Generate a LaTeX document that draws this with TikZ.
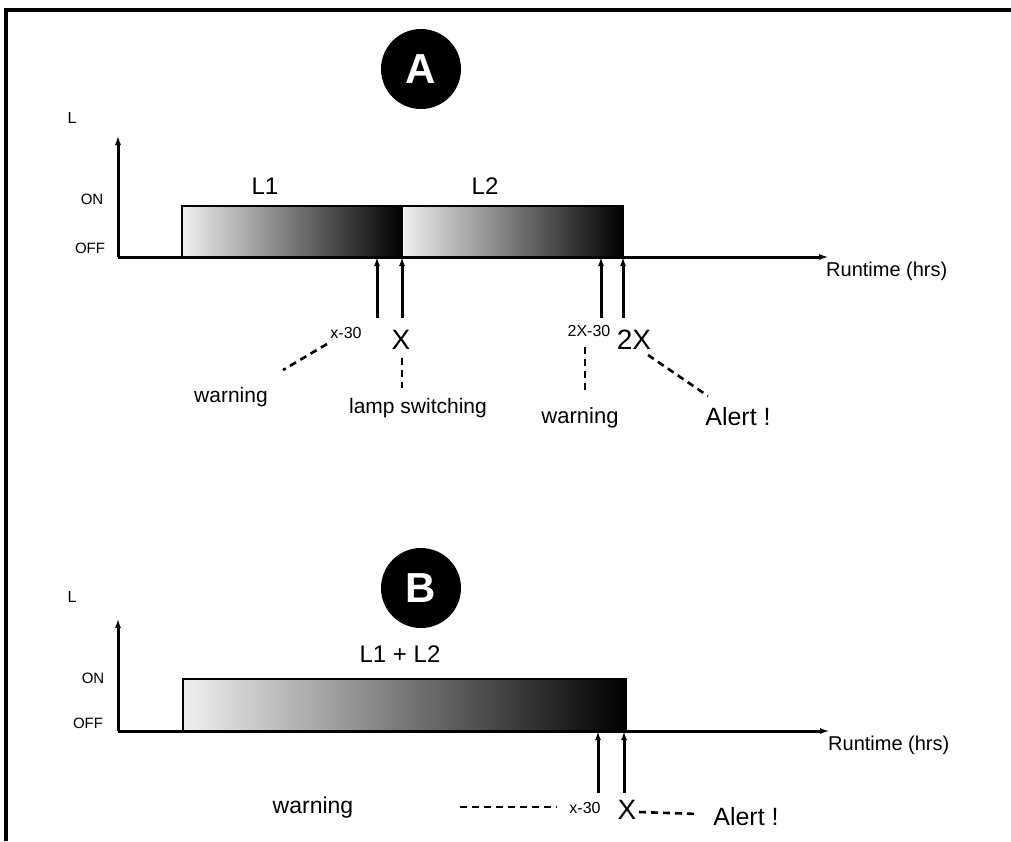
\documentclass[tikz,border=0pt]{standalone}
\usepackage{fontspec}
\setmainfont{Liberation Sans}
\usetikzlibrary{arrows.meta}
\newcommand\fsz[1]{\fontsize{#1}{#1}\selectfont}
\begin{document}
\begin{tikzpicture}[x=1pt,y=-1pt,
  axisline/.style={line width=3pt,-{Latex[length=10pt,width=6pt]}},
  ptr/.style={line width=3pt,-{Latex[length=9pt,width=6pt]}},
  dsh/.style={line width=2.6pt,dash pattern=on 7pt off 5pt},
  barbox/.style={draw,line width=2.6pt,left color=white!94!black,right color=black},
  badge/.style={circle,fill=black,minimum size=80pt,inner sep=0pt,text=white,font=\fsz{42}\bfseries},
  lbl/.style={inner sep=0pt}
]
\useasboundingbox (0,0) rectangle (1011,841);
\draw[line width=4pt] (6,841) -- (6,10) -- (1011,10);

% ---------- A ----------
\node[badge] (A) at (421,69) {A};
\node[lbl,font=\fsz{16}] (LA) at (72,118) {L};
\node[lbl,font=\fsz{15}] (onA) at (92,199) {ON};
\node[lbl,font=\fsz{15}] (offA) at (90,248) {OFF};
\path[barbox] (182,206) rectangle (402,257);
\path[barbox] (402,206) rectangle (623,257);
\node[lbl,font=\fsz{24}] (L1) at (265,186) {L1};
\node[lbl,font=\fsz{24}] (L2) at (485,186) {L2};
\coordinate (oA) at (118,257);
\coordinate (yA) at (118,135);
\coordinate (xA) at (829,257);
\draw[axisline] (oA) -- (yA);
\draw[axisline] (oA) -- (xA);
\node[lbl,anchor=west,font=\fsz{20}] (rtA) at (826,271) {Runtime (hrs)};

\coordinate (a1b) at (377,318); \coordinate (a1t) at (377,257);
\coordinate (a2b) at (402,318); \coordinate (a2t) at (402,257);
\coordinate (a3b) at (601,318); \coordinate (a3t) at (601,257);
\coordinate (a4b) at (623,318); \coordinate (a4t) at (623,257);
\draw[ptr] (a1b) -- (a1t);
\draw[ptr] (a2b) -- (a2t);
\draw[ptr] (a3b) -- (a3t);
\draw[ptr] (a4b) -- (a4t);

\node[lbl,font=\fsz{16}] (x30A) at (346,333) {x-30};
\node[lbl,font=\fsz{28}] (XA) at (401,340) {X};
\node[lbl,font=\fsz{21}] (warnA1) at (231,397) {warning};
\node[lbl,font=\fsz{21}] (lsA) at (418,408) {lamp switching};
\node[lbl,font=\fsz{16}] (x30A2) at (589,331) {2X-30};
\node[lbl,font=\fsz{28}] (XXA) at (634,340) {2X};
\node[lbl,font=\fsz{22}] (warnA2) at (580,418) {warning};
\node[lbl,font=\fsz{25}] (alertA) at (738,417) {Alert !};

\coordinate (d1s) at (327,344); \coordinate (d1e) at (283,370);
\coordinate (d2s) at (402,358); \coordinate (d2e) at (402,388);
\coordinate (d3s) at (585,347); \coordinate (d3e) at (585,393);
\coordinate (d4s) at (648,355); \coordinate (d4e) at (708,396);
\draw[dsh] (d1s) -- (d1e);
\draw[dsh] (d2s) -- (d2e);
\draw[dsh] (d3s) -- (d3e);
\draw[dsh] (d4s) -- (d4e);

% ---------- B ----------
\node[badge] (B) at (421,588) {B};
\node[lbl,font=\fsz{16}] (LB) at (72,597) {L};
\node[lbl,font=\fsz{15}] (onB) at (93,678) {ON};
\node[lbl,font=\fsz{15}] (offB) at (88,723) {OFF};
\path[barbox] (183,679) rectangle (626,731);
\node[lbl,font=\fsz{24}] (L12) at (400,654) {L1 + L2};
\coordinate (oB) at (118,731);
\coordinate (yB) at (118,618);
\coordinate (xB) at (830,731);
\draw[axisline] (oB) -- (yB);
\draw[axisline] (oB) -- (xB);
\node[lbl,anchor=west,font=\fsz{20}] (rtB) at (828,745) {Runtime (hrs)};

\coordinate (b1b) at (598,793); \coordinate (b1t) at (598,731);
\coordinate (b2b) at (624,793); \coordinate (b2t) at (624,731);
\draw[ptr] (b1b) -- (b1t);
\draw[ptr] (b2b) -- (b2t);

\node[lbl,font=\fsz{23}] (warnB) at (313,808) {warning};
\node[lbl,font=\fsz{16}] (x30B) at (585,808) {x-30};
\node[lbl,font=\fsz{28}] (XB) at (627,810) {X};
\node[lbl,font=\fsz{25}] (alertB) at (746,817) {Alert !};
\coordinate (e1s) at (460,807); \coordinate (e1e) at (557,807);
\coordinate (e2s) at (639,812); \coordinate (e2e) at (698,814);
\draw[dsh] (e1s) -- (e1e);
\draw[dsh] (e2s) -- (e2e);
\end{tikzpicture}
\end{document}
